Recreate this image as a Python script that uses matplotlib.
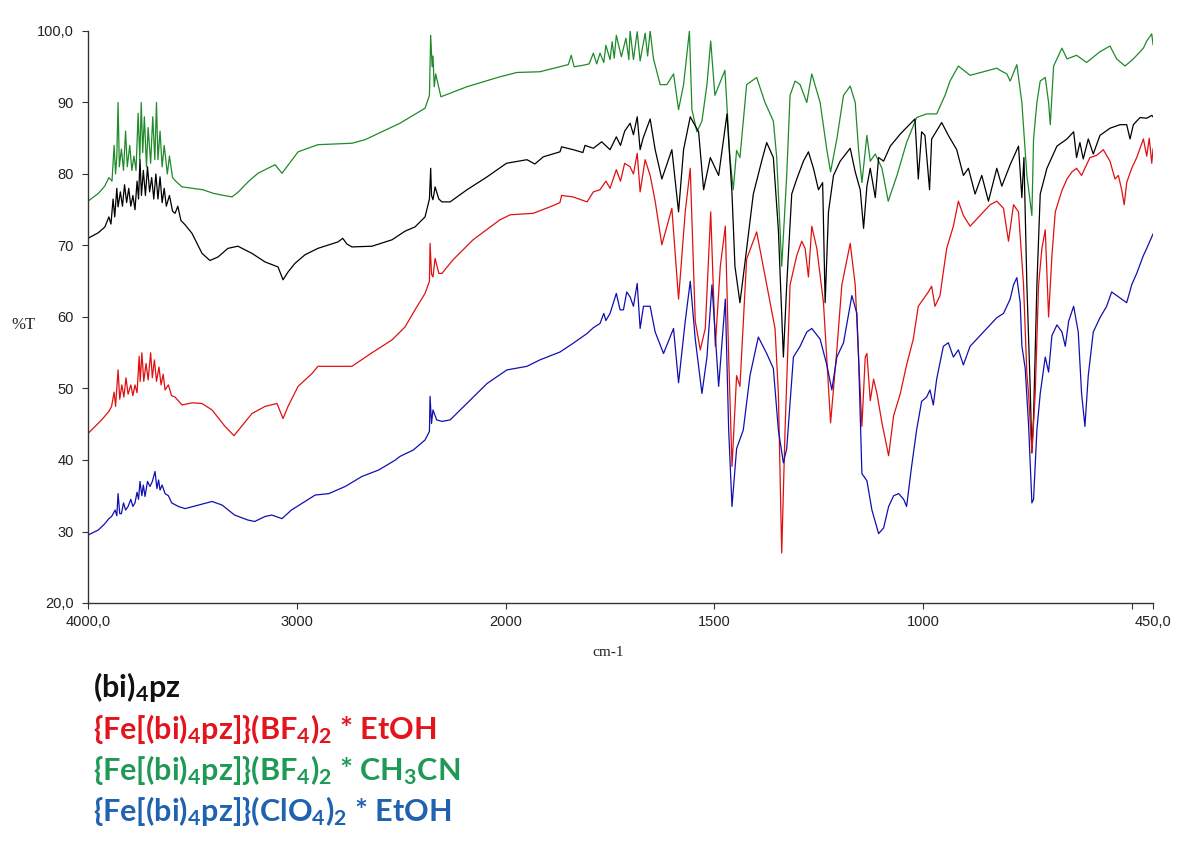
import numpy as np
import matplotlib
matplotlib.use("Agg")
import matplotlib.pyplot as plt

# ---------------- data (wavenumber cm-1, %T) ----------------
wn_green = [4000, 3950, 3920, 3900, 3885, 3875, 3868, 3862, 3856, 3850, 3840, 3830, 3820, 3812, 3800,
            3790, 3780, 3770, 3760, 3752, 3745, 3738, 3730, 3720, 3712, 3700, 3690, 3680, 3672, 3665,
            3655, 3645, 3635, 3620, 3610, 3595, 3580, 3550, 3500, 3450, 3400, 3350, 3310, 3280, 3230,
            3186, 3104, 3071, 2994, 2899, 2736, 2673, 2600, 2506, 2386, 2365, 2359, 2352, 2348, 2342,
            2335, 2310, 2186, 2027, 1973, 1918, 1870, 1850, 1843, 1836, 1815, 1800, 1790, 1782, 1774,
            1765, 1760, 1750, 1745, 1740, 1735, 1723, 1712, 1705, 1702, 1694, 1685, 1678, 1666, 1660,
            1654, 1646, 1630, 1614, 1598, 1586, 1574, 1560, 1554, 1542, 1530, 1518, 1509, 1499, 1475,
            1463, 1455, 1447, 1439, 1423, 1399, 1379, 1359, 1351, 1339, 1327, 1319, 1307, 1295, 1279,
            1267, 1247, 1231, 1222, 1207, 1191, 1175, 1163, 1155, 1147, 1135, 1127, 1115, 1099, 1084,
            1063, 1040, 1016, 992, 968, 948, 936, 916, 888, 856, 824, 816, 800, 792, 776,
            764, 752, 740, 736, 728, 720, 708, 700, 696, 688, 668, 656, 633, 609, 577,
            553, 537, 517, 497, 473, 465, 453, 450]
t_green = [76.2, 77.3, 78.3, 79.5, 79.0, 84.0, 80.0, 82.5, 90.0, 81.0, 83.5, 80.5, 86.0, 81.0, 84.0,
           80.5, 82.5, 80.5, 88.5, 82.0, 90.0, 83.0, 88.0, 81.0, 86.5, 81.5, 88.0, 82.0, 90.0, 82.0,
           86.0, 81.0, 84.0, 80.0, 82.5, 79.5, 79.0, 78.2, 78.0, 77.8, 77.3, 77.0, 76.8, 77.5, 79.0,
           80.1, 81.3, 80.1, 83.1, 84.1, 84.3, 84.8, 85.8, 87.1, 89.2, 91.0, 99.4, 95.0, 96.5, 92.2,
           94.0, 90.8, 92.2, 93.6, 94.2, 94.3, 95.0, 95.3, 96.6, 95.0, 95.2, 95.4, 96.9, 95.4, 96.9,
           95.6, 98.0, 96.0, 98.5, 96.2, 99.4, 96.4, 99.0, 96.0, 100.0, 96.0, 99.9, 95.8, 99.7, 96.5,
           100.0, 96.1, 92.5, 92.5, 94.0, 89.0, 92.5, 100.0, 89.0, 85.9, 87.4, 92.5, 98.6, 91.0, 94.5,
           82.3, 77.8, 83.3, 82.3, 92.5, 93.5, 90.0, 87.4, 82.3, 67.1, 79.8, 91.0, 93.0, 92.5, 90.0,
           94.0, 90.0, 83.4, 80.3, 84.9, 91.0, 92.3, 90.0, 83.4, 78.8, 85.4, 81.8, 82.8, 80.8, 76.2,
           79.8, 84.4, 87.9, 88.4, 88.4, 91.0, 93.0, 95.1, 93.8, 94.3, 94.8, 94.5, 94.0, 93.0, 95.3,
           90.0, 79.8, 74.2, 84.9, 90.0, 93.0, 93.5, 90.0, 86.9, 95.1, 97.6, 96.1, 96.6, 95.6, 97.1,
           97.9, 96.1, 95.1, 96.1, 97.6, 98.6, 99.6, 98.1]

wn_black = [4000, 3950, 3919, 3900, 3890, 3880, 3872, 3862, 3856, 3845, 3835, 3825, 3815, 3805, 3795,
            3785, 3775, 3765, 3758, 3751, 3744, 3735, 3725, 3715, 3705, 3695, 3685, 3675, 3665, 3655,
            3645, 3635, 3625, 3610, 3595, 3583, 3570, 3555, 3535, 3502, 3454, 3416, 3377, 3330, 3282,
            3215, 3152, 3090, 3066, 3042, 3009, 2961, 2899, 2803, 2780, 2760, 2736, 2640, 2544, 2482,
            2434, 2386, 2365, 2359, 2355, 2348, 2338, 2320, 2305, 2266, 2185, 2089, 1998, 1949, 1930,
            1910, 1870, 1866, 1838, 1815, 1810, 1790, 1770, 1750, 1735, 1725, 1715, 1702, 1694, 1685,
            1678, 1671, 1654, 1642, 1626, 1602, 1586, 1574, 1558, 1538, 1526, 1510, 1490, 1470, 1458,
            1451, 1439, 1427, 1407, 1387, 1375, 1359, 1347, 1335, 1327, 1315, 1303, 1287, 1275, 1263,
            1251, 1241, 1235, 1227, 1215, 1199, 1175, 1163, 1151, 1143, 1135, 1127, 1115, 1107, 1095,
            1079, 1055, 1020, 1012, 1004, 996, 985, 980, 956, 940, 920, 904, 892, 876, 860,
            844, 824, 812, 792, 772, 764, 759, 752, 744, 740, 736, 728, 720, 704, 680,
            656, 640, 633, 625, 617, 605, 593, 577, 553, 529, 513, 505, 497, 481, 465,
            453, 450]
t_black = [71.0, 71.8, 72.6, 74.0, 73.0, 76.5, 74.0, 78.0, 75.4, 77.5, 75.5, 78.5, 76.0, 78.0, 75.5,
           77.0, 75.0, 79.0, 76.5, 82.0, 77.0, 80.5, 77.0, 81.0, 77.5, 79.5, 76.5, 80.0, 76.5, 79.6,
           76.0, 78.0, 75.5, 77.0, 74.8, 74.5, 75.5, 73.5, 72.9, 71.7, 68.9, 67.9, 68.4, 69.6, 69.9,
           68.9, 67.7, 67.0, 65.2, 66.3, 67.5, 68.7, 69.6, 70.5, 71.0, 70.2, 69.8, 69.9, 70.8, 72.0,
           72.6, 74.0, 76.5, 80.8, 77.0, 76.4, 78.2, 76.5, 76.1, 76.1, 77.8, 79.6, 81.5, 82.0, 81.4,
           82.4, 83.1, 83.8, 83.4, 83.0, 84.0, 83.6, 84.5, 83.4, 85.2, 84.0, 86.0, 87.1, 85.5, 88.0,
           83.4, 85.0, 87.7, 83.4, 79.3, 83.4, 74.7, 83.4, 88.0, 85.9, 77.8, 82.3, 79.8, 88.4, 77.2,
           67.1, 62.0, 67.6, 77.2, 81.8, 84.4, 82.3, 72.2, 54.4, 64.5, 77.2, 79.3, 81.8, 83.1, 80.8,
           77.8, 78.8, 62.0, 74.7, 79.8, 81.8, 83.6, 80.3, 77.8, 72.4, 78.3, 80.8, 76.7, 82.3, 81.8,
           83.9, 85.6, 87.7, 79.3, 85.9, 85.4, 77.8, 84.9, 87.2, 85.4, 83.4, 79.8, 80.8, 77.2, 79.8,
           76.2, 80.8, 78.3, 81.3, 83.9, 76.7, 82.3, 64.5, 50.0, 41.0, 46.0, 64.5, 77.2, 80.8, 83.9,
           84.9, 85.9, 82.3, 84.4, 82.1, 84.9, 82.8, 85.4, 86.4, 86.9, 86.9, 84.9, 86.9, 87.9, 87.8,
           88.2, 88.0]

wn_red = [4000, 3935, 3900, 3887, 3875, 3868, 3856, 3848, 3838, 3828, 3818, 3808, 3795, 3785, 3775,
          3765, 3755, 3750, 3742, 3733, 3722, 3712, 3700, 3692, 3682, 3672, 3660, 3650, 3640, 3631,
          3615, 3600, 3583, 3550, 3500, 3454, 3406, 3344, 3301, 3265, 3215, 3152, 3095, 3066, 3042,
          2994, 2927, 2899, 2831, 2736, 2640, 2544, 2482, 2434, 2386, 2365, 2362, 2355, 2348, 2338,
          2320, 2305, 2252, 2156, 2027, 1989, 1934, 1894, 1870, 1866, 1839, 1805, 1790, 1774, 1760,
          1750, 1735, 1725, 1715, 1702, 1694, 1685, 1678, 1666, 1654, 1642, 1626, 1602, 1586, 1570,
          1558, 1546, 1534, 1522, 1509, 1498, 1486, 1474, 1466, 1458, 1447, 1439, 1423, 1399, 1375,
          1355, 1347, 1339, 1331, 1319, 1303, 1291, 1283, 1275, 1267, 1255, 1239, 1222, 1207, 1195,
          1175, 1163, 1155, 1147, 1139, 1135, 1127, 1119, 1111, 1099, 1083, 1071, 1055, 1040, 1024,
          1012, 1000, 988, 980, 972, 960, 944, 928, 916, 904, 888, 864, 840, 824, 808,
          796, 784, 772, 760, 752, 748, 740, 732, 724, 716, 708, 700, 692, 684, 668,
          656, 644, 633, 621, 601, 585, 569, 553, 541, 533, 525, 519, 513, 501, 489,
          473, 465, 459, 453, 450]
t_red = [43.7, 45.6, 46.8, 47.5, 49.5, 47.5, 52.6, 48.5, 50.5, 48.8, 51.5, 49.2, 50.5, 49.0, 50.5,
         49.4, 54.5, 51.0, 55.0, 51.0, 53.5, 51.2, 55.0, 51.5, 54.0, 51.0, 53.0, 50.5, 52.0, 49.8,
         50.5, 49.0, 48.8, 47.7, 48.0, 47.9, 47.0, 44.7, 43.4, 44.7, 46.5, 47.5, 47.9, 45.8, 47.5,
         50.3, 52.1, 53.1, 53.1, 53.1, 55.0, 56.8, 58.6, 61.0, 63.3, 65.0, 70.3, 66.0, 65.6, 68.2,
         66.1, 66.1, 68.0, 70.8, 73.6, 74.3, 74.5, 75.4, 76.0, 77.0, 76.8, 76.1, 77.5, 77.8, 79.0,
         78.0, 80.6, 79.0, 81.5, 81.0, 80.0, 82.9, 77.5, 82.0, 79.8, 76.2, 70.1, 75.2, 62.5, 74.7,
         80.8, 59.4, 55.4, 58.4, 74.7, 55.9, 67.1, 72.7, 54.4, 39.1, 51.8, 50.3, 68.1, 71.9, 64.5,
         58.4, 49.3, 27.0, 44.2, 64.5, 68.6, 70.6, 69.6, 65.6, 72.7, 69.6, 62.0, 45.2, 55.4, 64.5,
         70.3, 64.5, 54.4, 44.7, 54.4, 54.9, 48.3, 51.3, 49.3, 45.2, 40.6, 46.2, 49.3, 53.3, 56.9,
         61.5, 62.5, 63.5, 64.3, 61.5, 63.0, 69.6, 72.7, 76.2, 74.2, 72.7, 74.2, 75.7, 76.2, 75.2,
         70.6, 75.7, 74.7, 64.5, 52.0, 49.3, 41.0, 49.3, 64.5, 69.6, 72.2, 60.0, 68.6, 74.7, 77.7,
         79.3, 80.3, 80.8, 79.8, 82.3, 82.6, 83.4, 81.8, 79.3, 79.8, 77.8, 75.7, 78.8, 80.8, 82.3,
         84.9, 82.5, 85.0, 81.5, 83.5]

wn_blue = [4000, 3951, 3919, 3900, 3887, 3870, 3862, 3856, 3848, 3840, 3830, 3820, 3808, 3795, 3785,
           3775, 3765, 3758, 3751, 3742, 3735, 3727, 3715, 3703, 3692, 3679, 3670, 3662, 3655, 3645,
           3631, 3615, 3599, 3567, 3535, 3470, 3406, 3358, 3298, 3234, 3202, 3152, 3120, 3071, 3026,
           2961, 2912, 2847, 2768, 2688, 2608, 2528, 2506, 2442, 2386, 2365, 2362, 2355, 2348, 2330,
           2305, 2266, 2186, 2089, 1997, 1949, 1918, 1870, 1839, 1805, 1790, 1774, 1765, 1760, 1750,
           1742, 1735, 1726, 1718, 1710, 1702, 1694, 1685, 1678, 1670, 1654, 1642, 1622, 1598, 1586,
           1570, 1558, 1546, 1530, 1518, 1506, 1490, 1474, 1466, 1458, 1447, 1431, 1415, 1395, 1375,
           1359, 1347, 1335, 1327, 1311, 1295, 1279, 1267, 1247, 1231, 1219, 1207, 1191, 1171, 1159,
           1155, 1147, 1135, 1123, 1107, 1095, 1083, 1071, 1059, 1047, 1040, 1028, 1016, 1004, 992,
           984, 976, 968, 952, 940, 928, 916, 904, 888, 864, 848, 824, 808, 800, 792,
           784, 776, 768, 764, 756, 748, 740, 736, 728, 720, 708, 700, 692, 680, 668,
           660, 652, 640, 629, 621, 613, 605, 593, 577, 561, 549, 537, 525, 513, 501,
           489, 473, 465, 453, 450]
t_blue = [29.5, 30.2, 31.1, 31.8, 32.1, 33.0, 32.2, 35.3, 32.5, 32.5, 34.0, 33.0, 33.5, 34.5, 33.5,
          34.0, 35.5, 34.5, 37.0, 35.0, 36.5, 34.9, 37.0, 36.3, 37.0, 38.4, 36.0, 37.2, 35.8, 36.5,
          35.3, 35.0, 34.0, 33.5, 33.2, 33.7, 34.2, 33.7, 32.3, 31.6, 31.4, 32.1, 32.3, 31.8, 33.0,
          34.2, 35.1, 35.3, 36.3, 37.7, 38.6, 40.0, 40.5, 41.4, 42.8, 44.0, 48.9, 45.1, 47.0, 45.6,
          45.4, 45.6, 47.9, 50.7, 52.6, 53.1, 54.0, 55.1, 56.3, 57.7, 58.5, 59.1, 60.5, 59.5, 60.5,
          62.0, 63.3, 61.0, 61.0, 63.5, 62.8, 61.5, 64.7, 58.4, 61.5, 61.5, 57.9, 54.9, 58.4, 50.8,
          59.4, 65.0, 56.9, 49.3, 54.4, 64.5, 50.3, 62.5, 44.2, 33.5, 41.6, 44.2, 51.8, 57.2, 54.9,
          52.8, 44.2, 39.6, 41.6, 54.4, 55.9, 57.9, 58.4, 56.9, 53.3, 49.8, 54.4, 56.4, 63.0, 60.5,
          54.4, 38.1, 37.1, 33.0, 29.7, 30.5, 33.5, 35.0, 35.3, 34.5, 33.5, 39.1, 44.2, 48.2, 48.8,
          49.8, 47.7, 51.3, 55.9, 56.4, 54.4, 55.4, 53.3, 55.9, 57.4, 58.4, 59.9, 60.5, 61.5, 62.5,
          64.5, 65.5, 62.0, 56.0, 52.8, 45.0, 34.0, 34.5, 44.2, 49.3, 54.4, 52.3, 57.4, 58.9, 57.9,
          55.9, 59.4, 61.5, 57.9, 49.3, 44.7, 51.8, 57.9, 59.9, 61.5, 63.5, 63.0, 62.5, 62.0, 64.5,
          66.1, 68.6, 69.6, 71.2, 71.6]

x_ticks = [4000, 3000, 2000, 1500, 1000, 500, 450]
x_ticklabels = ["4000,0", "3000", "2000", "1500", "1000", "", "450,0"]
y_ticks = [20, 30, 40, 50, 60, 70, 80, 90, 100]
y_ticklabels = ["20,0", "30", "40", "50", "60", "70", "80", "90", "100,0"]

legend_texts = [r"(bi)$_4$pz",
                r"{Fe[(bi)$_4$pz]}(BF$_4$)$_2$ * EtOH",
                r"{Fe[(bi)$_4$pz]}(BF$_4$)$_2$ * CH$_3$CN",
                r"{Fe[(bi)$_4$pz]}(ClO$_4$)$_2$ * EtOH"]
legend_colors = ["#111111", "#e3141c", "#1e9a56", "#1f62b0"]

# ---------------- figure ----------------
plt.rcParams["mathtext.default"] = "regular"

W, H = 1179, 841
fig = plt.figure(figsize=(W / 100, H / 100), dpi=100)
ax = fig.add_axes([88 / W, 238 / H, 1065 / W, 572 / H])


def fwd(w):
    w = np.asarray(w, dtype=float)
    return np.where(w >= 2000, w, 2 * w - 2000)


def inv(p):
    p = np.asarray(p, dtype=float)
    return np.where(p >= 2000, p, (p + 2000) / 2)


ax.set_xscale("function", functions=(fwd, inv))

lw = 0.9
ax.plot(wn_green, t_green, color="#1f8a2a", lw=lw)
ax.plot(wn_black, t_black, color="#000000", lw=lw)
ax.plot(wn_red, t_red, color="#e01010", lw=lw)
ax.plot(wn_blue, t_blue, color="#1010b0", lw=lw)

ax.set_xlim(4000, 450)
ax.set_ylim(20, 100)

for s in ["top", "right"]:
    ax.spines[s].set_visible(False)
for s in ["left", "bottom"]:
    ax.spines[s].set_color("#333333")
    ax.spines[s].set_linewidth(1.0)

ax.set_xticks(x_ticks)
ax.set_xticklabels(x_ticklabels)
ax.minorticks_off()
ax.set_yticks(y_ticks)
ax.set_yticklabels(y_ticklabels)
ax.tick_params(axis="both", direction="out", length=4, width=0.8, color="#333333",
               labelsize=10.5, labelcolor="#222222")
ax.tick_params(axis="y", pad=6)
ax.tick_params(axis="x", pad=5)
for lab in ax.get_xticklabels() + ax.get_yticklabels():
    lab.set_family("Liberation Sans")

ax.set_ylabel("%T", rotation=0, family="Liberation Serif", fontsize=12, color="#222222",
              va="center", ha="center")
ax.yaxis.set_label_coords((23 - 88) / 1065, (603 - 325) / 572)
ax.set_xlabel("cm-1", family="Liberation Serif", fontsize=11, color="#222222",
              va="center", ha="center")
ax.xaxis.set_label_coords((608 - 88) / 1065, (603 - 652) / 572)

baselines = [697, 738.5, 780, 821.5]
for txt, col, yb in zip(legend_texts, legend_colors, baselines):
    fig.text(93 / W, (H - yb) / H, txt, color=col, family="Lato", weight="bold",
             fontsize=22, va="baseline", ha="left")

fig.savefig("out.png", dpi=100)
